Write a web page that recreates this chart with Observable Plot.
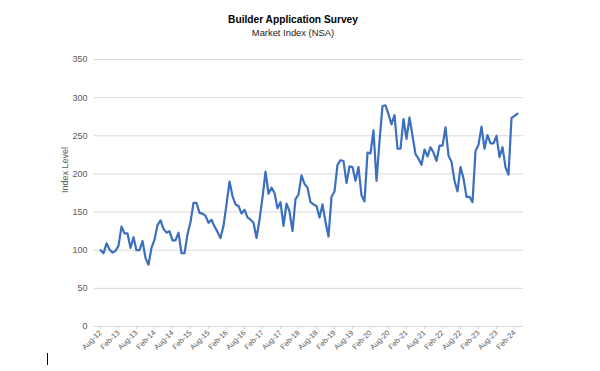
<!DOCTYPE html>
<html>
<head>
<meta charset="utf-8">
<script src="https://cdn.jsdelivr.net/npm/d3@7"></script>
<script src="https://cdn.jsdelivr.net/npm/@observablehq/plot@0.6"></script>
<style>
  html, body { margin: 0; padding: 0; background: #fff; }
  #wrap { position: relative; width: 600px; height: 371px; overflow: hidden; background: #fff;
          font-family: "Liberation Sans", Arial, sans-serif; }
  #title { position: absolute; left: 0; width: 586px; top: 14px; text-align: center;
           font-weight: bold; font-size: 10.2px; line-height: 12px; color: #000; }
  #subtitle { position: absolute; left: 0; width: 586px; top: 27px; text-align: center;
              font-size: 9.4px; line-height: 12px; color: #1a1a1a; }
  #chart { position: absolute; left: 0; top: 40px; }
  #cursor { position: absolute; left: 47px; top: 353px; width: 1px; height: 12px; background: #000; }
</style>
</head>
<body>
<div id="wrap">
  <div id="title">Builder Application Survey</div>
  <div id="subtitle">Market Index (NSA)</div>
  <div id="chart"></div>
  <div id="cursor"></div>
</div>
<script>
// Monthly categories: Aug-12 through Mar-24
const months = d3.utcMonth
  .range(new Date(Date.UTC(2012, 7, 1)), new Date(Date.UTC(2024, 3, 1)))
  .map(d3.utcFormat("%b-%y"));

const tickLabels = ["Aug-12","Feb-13","Aug-13","Feb-14","Aug-14","Feb-15","Aug-15","Feb-16",
  "Aug-16","Feb-17","Aug-17","Feb-18","Aug-18","Feb-19","Aug-19","Feb-20","Aug-20","Feb-21",
  "Aug-21","Feb-22","Aug-22","Feb-23","Aug-23","Feb-24"];

const yTicks = [0, 50, 100, 150, 200, 250, 300, 350];

const marketIndex = [
  100, 96, 109, 101, 97, 99, 106, 131, 122, 122,
  103, 117, 100, 100, 112, 90, 81, 103, 114, 133,
  139, 128, 123, 125, 113, 113, 123, 96, 96, 121,
  137, 162, 162, 149, 148, 145, 136, 140, 131, 124,
  116, 132, 160, 190, 171, 160, 158, 148, 153, 143,
  140, 136, 116, 140, 169, 203, 174, 182, 175, 155,
  163, 132, 161, 151, 125, 167, 173, 198, 187, 182,
  163, 160, 158, 143, 160, 137, 118, 170, 177, 212,
  218, 217, 188, 210, 209, 191, 209, 172, 164, 228,
  227, 257, 191, 243, 289, 290, 278, 265, 277, 233,
  233, 272, 246, 274, 250, 226, 220, 212, 232, 223,
  235, 228, 217, 237, 237, 261, 224, 216, 191, 177,
  209, 194, 170, 170, 163, 230, 238, 262, 233, 251,
  240, 240, 250, 222, 235, 209, 199, 273, 276, 279
];

const chart = Plot.plot({
  width: 600,
  height: 331,
  marginTop: 19,
  marginBottom: 45,
  marginLeft: 94,
  marginRight: 77,
  style: { fontFamily: "'Liberation Sans', Arial, sans-serif", background: "transparent", overflow: "visible" },
  x: { type: "point", domain: months, padding: 0.5, label: null },
  y: { domain: [0, 350], label: null },
  marks: [
    Plot.gridY(yTicks, { stroke: "#d9d9d9", strokeOpacity: 1, strokeWidth: 1 }),
    Plot.axisY(yTicks, { tickSize: 0, tickPadding: 7, fontSize: 9, fill: "#595959", label: null }),
    Plot.axisX(tickLabels, { tickRotate: -45, tickSize: 3, tickPadding: 2, fontSize: 7.5,
                             fill: "#595959", stroke: "#d9d9d9", label: null }),
    Plot.line(marketIndex, { x: months, y: marketIndex, stroke: "#3b6fbf", strokeWidth: 2.2,
                             strokeLinejoin: "round", strokeLinecap: "round" }),
    Plot.text(["Index Level"], { frameAnchor: "left", dx: -29, rotate: -90, fontSize: 9, fill: "#595959" })
  ]
});
document.getElementById("chart").appendChild(chart);
</script>
</body>
</html>
